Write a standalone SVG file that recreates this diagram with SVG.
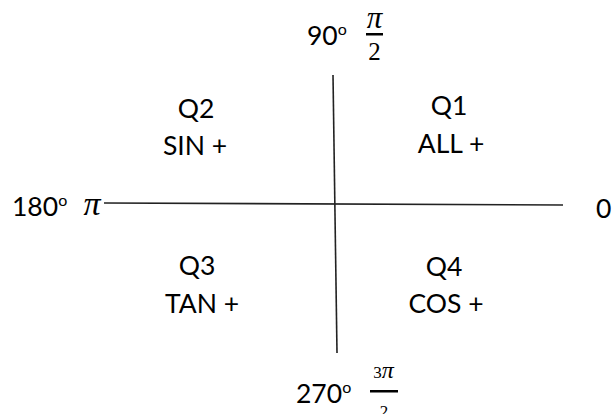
<svg xmlns="http://www.w3.org/2000/svg" width="613" height="414" viewBox="0 0 613 414">
<style>
.t{font-family:Lato,"Open Sans","Liberation Sans",sans-serif;font-size:26.5px;fill:#000;text-anchor:middle}
.l{font-family:Lato,"Open Sans","Liberation Sans",sans-serif;font-size:26.5px;fill:#000}
.sup{font-size:16px}
.m{font-family:"Liberation Serif","DejaVu Serif",serif;font-style:italic;fill:#000;text-anchor:middle}
.d{font-family:"Liberation Serif","DejaVu Serif",serif;fill:#000;text-anchor:middle}
.ax{stroke:#222;stroke-width:1.6;fill:none}
</style>
<rect width="613" height="414" fill="#fff"/>
<g id="connectors">
<line class="ax" x1="333" y1="75" x2="337" y2="353"/>
<line class="ax" x1="104" y1="203" x2="563" y2="205"/>
</g>
<g id="label-90">
<text class="l" x="307" y="45">90<tspan class="sup" dy="-10">o</tspan></text>
<text class="m" x="374.5" y="28" font-size="31">π</text>
<rect x="366" y="33" width="17" height="2.5" fill="#000"/>
<text class="d" x="374.5" y="60" font-size="25">2</text>
</g>
<g id="label-180">
<text class="l" x="12" y="216">180<tspan class="sup" dy="-10">o</tspan></text>
<text class="m" x="92" y="215" font-size="34">π</text>
</g>
<g id="label-0">
<text class="l" x="596" y="218">0</text>
</g>
<g id="label-270">
<text class="l" x="296" y="403">270<tspan class="sup" dy="-10">o</tspan></text>
<text class="d" x="383.5" y="378" font-size="17">3<tspan font-style="italic" font-size="24">π</tspan></text>
<rect x="370" y="390" width="28" height="2.5" fill="#000"/>
<text class="d" x="384" y="417" font-size="17">2</text>
</g>
<g id="q1">
<text class="t" x="449" y="115">Q1</text>
<text class="t" x="451" y="153">ALL +</text>
</g>
<g id="q2">
<text class="t" x="196" y="118">Q2</text>
<text class="t" x="195" y="155">SIN +</text>
</g>
<g id="q3">
<text class="t" x="197" y="275">Q3</text>
<text class="t" x="202" y="313">TAN +</text>
</g>
<g id="q4">
<text class="t" x="444" y="276">Q4</text>
<text class="t" x="446" y="313">COS +</text>
</g>
</svg>
